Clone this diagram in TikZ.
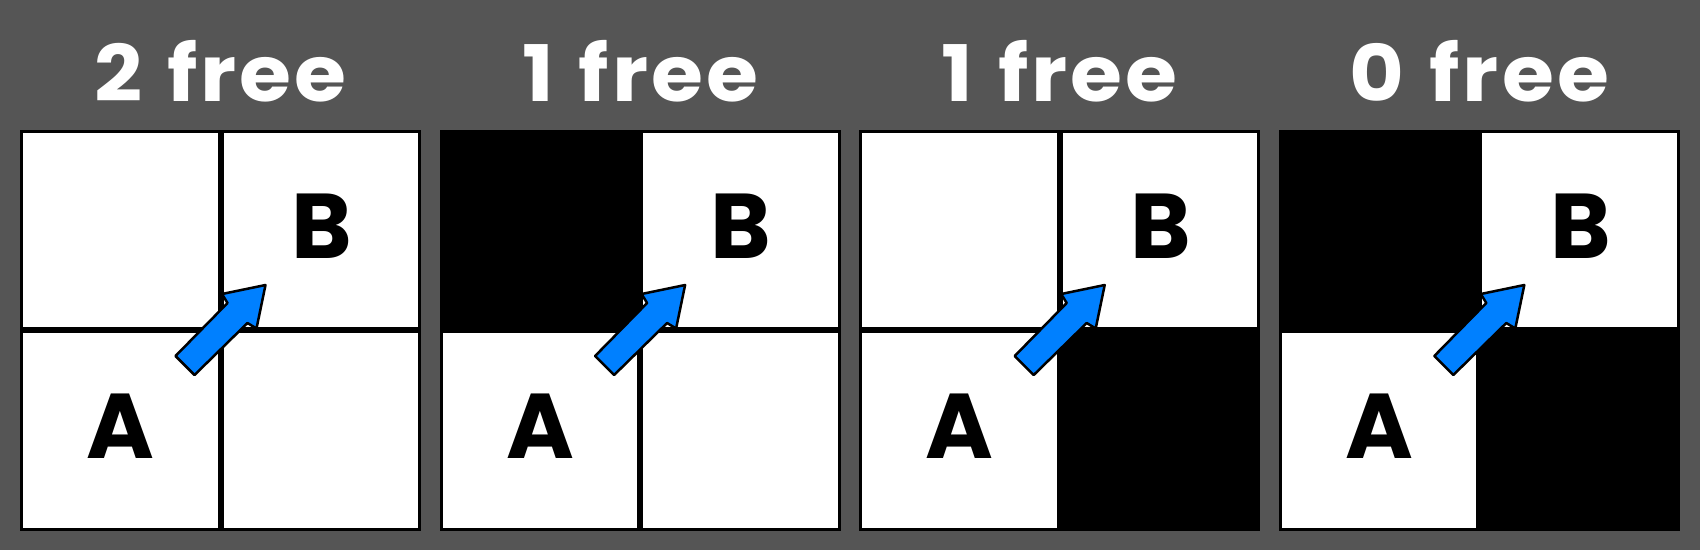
\documentclass[tikz,border=0pt]{standalone}
\usepackage{fontspec}
\setmainfont{Poppins}
\newfontfamily\titlefont{Poppins Bold}[FakeStretch=1.08,LetterSpace=4]
\newfontfamily\cellfont{Poppins Bold}
\usetikzlibrary{calc}
\definecolor{bg}{HTML}{555555}
\definecolor{arrowblue}{RGB}{0,128,255}
\begin{document}
\begin{tikzpicture}[x=1pt,y=-1pt,
  titletext/.style={anchor=base,text=white,font=\titlefont\fontsize{78}{78}\selectfont,inner sep=0pt},
  celltext/.style={anchor=base,text=black,font=\cellfont\fontsize{92}{92}\selectfont,inner sep=0pt},
  panelborder/.style={draw=black,line width=3pt},
  divider/.style={draw=black,line width=6pt},
  movearrow/.style={fill=arrowblue,draw=black,line width=2.5pt,line join=round}]
\fill[bg] (0,0) rectangle (1700,550);
\useasboundingbox (0,0) rectangle (1700,550);
\foreach \i/\t/\tl/\br in {0/2/0/0,1/1/1/0,2/1/0/1,3/0/1/1}{
  \pgfmathsetmacro{\cx}{220.5+419.6*\i}
  \coordinate (c\i) at (\cx,330);
  \fill[white] ($(c\i)+(-199,-199)$) rectangle ($(c\i)+(199,199)$);
  \ifnum\tl=1 \fill[black] ($(c\i)+(-199,-199)$) rectangle (c\i); \fi
  \ifnum\br=1 \fill[black] (c\i) rectangle ($(c\i)+(199,199)$); \fi
  \draw[divider] ($(c\i)+(0,-199)$) -- ($(c\i)+(0,199)$);
  \draw[divider] ($(c\i)+(-199,0)$) -- ($(c\i)+(199,0)$);
  \draw[panelborder] ($(c\i)+(-199,-199)$) rectangle ($(c\i)+(199,199)$);
  \node[titletext] (t\i) at (\cx,101) {\t\hspace{25pt}free};
  \node[celltext] (a\i) at ($(c\i)+(-100,128)$) {A};
  \node[celltext] (b\i) at ($(c\i)+(101,-72)$) {B};
  \draw[movearrow] ($(c\i)+(45,-45)$) -- ($(c\i)+(1.5,-36)$) -- ($(c\i)+(7,-27)$)
    -- ($(c\i)+(-45,26)$) -- ($(c\i)+(-26,45)$) -- ($(c\i)+(27,-7)$)
    -- ($(c\i)+(36,-1.5)$) -- cycle;
}
\end{tikzpicture}
\end{document}
